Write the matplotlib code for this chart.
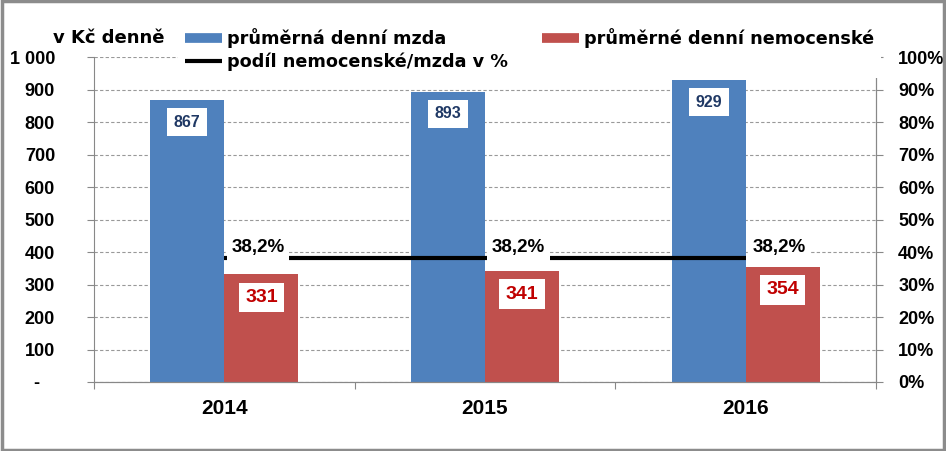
import matplotlib
matplotlib.use("Agg")
import matplotlib.pyplot as plt
from matplotlib.lines import Line2D
from matplotlib.patches import Rectangle
from matplotlib.ticker import FixedLocator, PercentFormatter

# data
years = ["2014", "2015", "2016"]
mzda = [867, 893, 929]
nemocenske = [331, 341, 354]
podil = [38.2, 38.2, 38.2]
left_ticks = [0, 100, 200, 300, 400, 500, 600, 700, 800, 900, 1000]
left_labels = ["-   ", "100", "200", "300", "400", "500", "600", "700", "800", "900", "1 000"]

BLUE = "#4F81BD"
RED = "#C0504D"
FONT = ["Liberation Sans", "DejaVu Sans"]
LEGFONT = ["DejaVu Sans"]

plt.rcParams["font.family"] = FONT
plt.rcParams["font.weight"] = "bold"

fig = plt.figure(figsize=(9.46, 4.51), dpi=100)
ax = fig.add_axes([94 / 946, 1 - 382 / 451, 782 / 946, 325 / 451])
ax2 = ax.twinx()

x = list(range(len(years)))
w = 0.284

bars_m = ax.bar([i - w / 2 for i in x], mzda, width=w, color=BLUE, zorder=2)
bars_n = ax.bar([i + w / 2 for i in x], nemocenske, width=w, color=RED, zorder=2)

for b, v in zip(bars_m, mzda):
    ax.annotate(str(v), (b.get_x() + b.get_width() / 2, v), xytext=(0, -22),
                textcoords="offset pixels", ha="center", va="center",
                fontsize=11.5, fontweight="bold", color="#1F3864", zorder=4,
                bbox=dict(boxstyle="square,pad=0.42", fc="white", ec="none"))
for b, v in zip(bars_n, nemocenske):
    ax.annotate(str(v), (b.get_x() + b.get_width() / 2, v), xytext=(0, -23),
                textcoords="offset pixels", ha="center", va="center",
                fontsize=14, fontweight="bold", color="#C00000", zorder=4,
                bbox=dict(boxstyle="square,pad=0.33", fc="white", ec="none"))

share = [p / 100 for p in podil]
ax2.plot(x, share, color="black", lw=3, solid_capstyle="butt", zorder=3)
for i, p in zip(x, podil):
    ax2.annotate(f"{p:.1f}".replace(".", ",") + "%", (i, p / 100), xytext=(7, 10),
                 textcoords="offset pixels", ha="left", va="center",
                 fontsize=13.5, fontweight="bold", color="black", zorder=4,
                 bbox=dict(boxstyle="square,pad=0.25", fc="white", ec="none"))

# axes formatting
ax.set_xlim(-0.5, 2.5)
ax.set_ylim(0, 1000)
ax2.set_ylim(0, 1)
ax.set_yticks(left_ticks)
ax.set_yticklabels(left_labels)
ax2.set_yticks([i / 10 for i in range(11)])
ax2.yaxis.set_major_formatter(PercentFormatter(1.0, decimals=0))

ax.xaxis.set_major_locator(FixedLocator([-0.5, 0.5, 1.5, 2.5]))
ax.xaxis.set_minor_locator(FixedLocator(x))
ax.set_xticklabels([], minor=False)
ax.set_xticklabels(years, minor=True, fontsize=15, fontweight="bold")
ax.tick_params(axis="x", which="major", length=5, color="#888888", direction="out")
ax.tick_params(axis="x", which="minor", length=0, pad=12)

ax.tick_params(axis="y", length=5, color="#888888", labelsize=13, pad=23)
ax2.tick_params(axis="y", length=5, color="#888888", labelsize=13, pad=11)

ax.yaxis.grid(True, color="#999999", linestyle=(0, (3, 2)), lw=0.8)
ax.set_axisbelow(True)
for a in (ax, ax2):
    a.spines["top"].set_visible(False)
    for s in ("left", "right", "bottom"):
        a.spines[s].set_color("#888888")
ax2.spines["left"].set_visible(False)

fig.text(53 / 946, 1 - 38 / 451, "v Kč denně", ha="left", va="center",
         fontsize=13, fontweight="bold", family=LEGFONT)

handles = [Line2D([], [], color=BLUE, lw=7, solid_capstyle="butt"),
           Line2D([], [], color="black", lw=3, solid_capstyle="butt"),
           Line2D([], [], color=RED, lw=7, solid_capstyle="butt")]
labels = ["průměrná denní mzda", "podíl nemocenské/mzda v %", "průměrné denní nemocenské"]
leg = fig.legend(handles, labels, ncol=2, loc="upper left",
                 bbox_to_anchor=(178 / 946, 1 - 21 / 451), frameon=True,
                 prop=dict(family=LEGFONT, size=12.7, weight="bold"),
                 handlelength=2.1, handletextpad=0.3,
                 columnspacing=1.9, labelspacing=0.25, borderpad=0.4,
                 borderaxespad=0, fancybox=False)
leg.get_frame().set_facecolor("white")
leg.get_frame().set_edgecolor("none")
leg.get_frame().set_alpha(1)

# outer gray border
fig.patches.append(Rectangle((0.002, 0.003), 0.996, 0.994, transform=fig.transFigure,
                             fill=False, ec="#8C8C8C", lw=2.5))

fig.savefig("out.png", dpi=100)
